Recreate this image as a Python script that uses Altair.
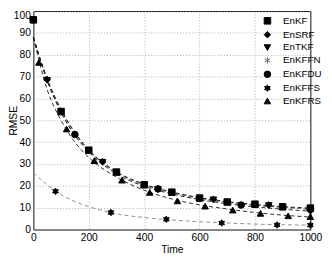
import altair as alt
import pandas as pd

SERIES = ["EnKF", "EnSRF", "EnTKF", "EnKFFN", "EnKFDU", "EnKFFS", "EnKFRS"]

# dashed curve values
LINE_T = [0, 50, 100, 150, 200, 300, 400, 500, 600, 700, 800, 900, 1000]
LINE_V = {
    "EnKF":   [88, 69.0, 55.0, 44.5, 36.5, 26.5, 20.8, 17.2, 14.6, 12.8, 11.5, 10.5, 9.8],
    "EnSRF":  [88, 68.5, 54.0, 43.5, 36.0, 26.0, 20.3, 16.8, 14.2, 12.4, 11.1, 10.1, 9.3],
    "EnTKF":  [88, 68.0, 53.5, 43.0, 35.5, 25.5, 19.8, 16.3, 13.7, 11.8, 10.4, 9.3, 8.4],
    "EnKFFN": [88, 68.5, 54.5, 44.0, 36.2, 26.2, 20.5, 17.0, 14.4, 12.6, 11.3, 10.3, 9.6],
    "EnKFDU": [88, 68.8, 54.8, 44.0, 36.3, 26.3, 20.6, 17.0, 14.4, 12.5, 11.2, 10.2, 9.2],
    "EnKFFS": [26, 20.5, 16.0, 12.8, 10.5, 7.2, 5.5, 4.4, 3.6, 3.0, 2.5, 2.2, 2.0],
    "EnKFRS": [88, 64.0, 50.0, 40.0, 33.0, 24.0, 18.0, 14.0, 11.3, 9.4, 7.8, 6.6, 5.7],
}
LINE_GROUP = {"EnKF": "dark", "EnSRF": "light", "EnTKF": "dark", "EnKFFN": "light",
              "EnKFDU": "light", "EnKFFS": "light", "EnKFRS": "dark"}

# marker values
MARK_T = {
    "EnKF":   [0, 100, 200, 300, 400, 500, 600, 700, 800, 900, 1000],
    "EnSRF":  [0, 50, 250, 450, 650, 850, 1000],
    "EnTKF":  [0, 50, 250, 450, 650, 850, 1000],
    "EnKFFN": [0, 50, 250, 450, 650, 850, 1000],
    "EnKFDU": [0, 150, 450, 750, 1000],
    "EnKFFS": [80, 280, 480, 680, 880, 1000],
    "EnKFRS": [20, 120, 220, 320, 420, 520, 620, 720, 820, 920, 1000],
}
MARK_V = {
    "EnKF":   [96, 54, 36.3, 26.3, 20.5, 17.1, 14.4, 12.6, 11.6, 10.4, 9.8],
    "EnSRF":  [96, 68.6, 31.0, 18.6, 13.8, 11.2, 9.5],
    "EnTKF":  [96, 68.3, 30.8, 18.4, 13.6, 11.0, 8.3],
    "EnKFFN": [96, 68.8, 31.2, 18.8, 13.9, 11.3, 9.0],
    "EnKFDU": [96, 43.5, 18.6, 11.2, 9.2],
    "EnKFFS": [17.5, 7.8, 4.7, 3.0, 2.1, 2.0],
    "EnKFRS": [76.5, 46, 31.5, 22.6, 17.0, 13.1, 10.7, 8.9, 7.4, 6.3, 5.9],
}

ASTERISK = "M0,-1L0,1M-0.87,-0.5L0.87,0.5M-0.87,0.5L0.87,-0.5"
HEXAGRAM = ("M0,-1L0.289,-0.5L0.866,-0.5L0.577,0L0.866,0.5L0.289,0.5L0,1"
            "L-0.289,0.5L-0.866,0.5L-0.577,0L-0.866,-0.5L-0.289,-0.5Z")
SHAPES = ["square", "diamond", "triangle-down", ASTERISK, "circle", HEXAGRAM, "triangle-up"]
FILLS = ["black", "black", "black", "transparent", "black", "black", "black"]
STROKES = ["black", "black", "black", "#666666", "black", "black", "black"]

DRAW_ORDER = ["EnKFFN", "EnKF", "EnSRF", "EnTKF", "EnKFDU", "EnKFFS", "EnKFRS"]

line_rows = [{"series": s, "group": LINE_GROUP[s], "t": t, "v": v}
             for s in SERIES for t, v in zip(LINE_T, LINE_V[s])]
mark_rows = [{"series": s, "t": t, "v": v} for s in DRAW_ORDER for t, v in zip(MARK_T[s], MARK_V[s])]
line_df = pd.DataFrame(line_rows)
mark_df = pd.DataFrame(mark_rows)

FONT = "Liberation Sans"

xenc = alt.X("t:Q", title="Time", scale=alt.Scale(domain=[0, 1000], nice=False),
             axis=alt.Axis(values=[0, 200, 400, 600, 800, 1000], format="d"))
yenc = alt.Y("v:Q", title="RMSE", scale=alt.Scale(domain=[0, 100], nice=False),
             axis=alt.Axis(values=list(range(0, 101, 10)), titleX=-25, titleY=112,
                           titleAngle=-90, titleBaseline="top", titleAlign="center",
                           labelBaseline=alt.ExprRef(expr="datum.value == 100 ? 'top' : 'middle'")))

base_line = alt.Chart(line_df).mark_line(strokeDash=[4, 3], strokeWidth=0.9, interpolate="monotone")
lines_dark = base_line.transform_filter(alt.datum.group == "dark").encode(
    x=xenc, y=yenc, detail="series:N", color=alt.value("#111111"))
lines_light = base_line.transform_filter(alt.datum.group == "light").encode(
    x=xenc, y=yenc, detail="series:N", color=alt.value("#808080"))

leg = alt.Legend(title=None, orient="none", legendX=235, legendY=5, padding=0,
                 labelFont=FONT, labelFontSize=10, labelColor="black",
                 labelOffset=11, rowPadding=2.2, symbolStrokeWidth=1, symbolSize=45)

points = alt.Chart(mark_df).mark_point(strokeWidth=1, opacity=1, size=45).encode(
    x=xenc, y=yenc,
    shape=alt.Shape("series:N", scale=alt.Scale(domain=SERIES, range=SHAPES), legend=leg),
    fill=alt.Fill("series:N", scale=alt.Scale(domain=SERIES, range=FILLS), legend=leg),
    stroke=alt.Stroke("series:N", scale=alt.Scale(domain=SERIES, range=STROKES), legend=leg),
)

chart = alt.layer(lines_light, lines_dark, points).properties(
    width=284, height=224,
    autosize=alt.AutoSizeParams(type="none"),
    padding={"left": 26, "top": 0, "right": 14, "bottom": 25},
).configure_view(stroke="black", strokeWidth=1).configure_axis(
    labelFont=FONT, labelFontSize=10.5, labelColor="black",
    titleFont=FONT, titleFontSize=10.5, titleFontWeight="normal", titleColor="black",
    domain=False, ticks=False, labelPadding=3, titlePadding=2,
    grid=True, gridDash=[1, 2], gridColor="#999999", gridWidth=0.8,
).configure_axisX(labelFlush=False)

chart.save("out.html", embed_options={"renderer": "svg", "actions": False})
